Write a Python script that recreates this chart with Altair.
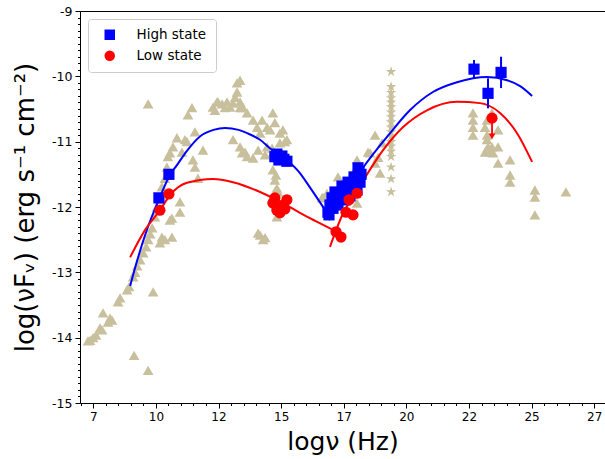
import altair as alt
import pandas as pd
import numpy as np

# ---------------- data ----------------
arch_x = [7.37, 7.49, 7.61, 7.29, 7.77, 7.85, 7.89, 8.17, 8.25, 8.09, 8.49, 8.57, 8.85, 8.93, 9.09,
          9.17, 9.25, 9.37, 9.49, 9.61, 9.69, 9.77, 9.85, 9.89, 9.13, 9.69, 10.16, 10.36, 10.64, 9.96,
          10.04, 10.16, 10.24, 10.36, 10.44, 10.48, 10.56, 10.68, 10.84, 11.04, 11.16, 11.28, 11.44, 9.69,
          11.24, 11.48, 11.56, 11.56, 11.68, 10.96, 10.96, 10.56, 10.64, 10.24, 11.88,
          12.28, 12.44, 12.48, 12.64, 12.76, 12.84, 12.96, 13.08, 13.16, 13.24, 13.36, 13.24, 13.36, 13.36,
          13.48, 13.64, 12.36, 13.08, 13.36, 13.44, 13.56, 13.64, 13.88, 13.88, 14.04, 14.08, 14.16, 14.24,
          14.36, 14.44, 14.44, 14.56, 14.64, 14.67, 14.67, 14.75, 14.95, 15.07, 15.15, 15.23, 14.95, 14.67,
          14.75, 14.83, 14.83, 14.08, 14.28, 14.16, 14.36, 14.79, 14.87, 14.75,
          16.63, 16.67, 16.83, 17.27, 17.95, 18.03, 18.03, 18.23, 18.47, 18.55, 18.75, 18.75, 18.87, 18.95, 19.03,
          22.66, 22.66, 22.66, 22.66, 23.14, 23.22, 23.22, 23.22, 23.14, 23.42, 23.42, 23.46, 23.26, 23.34,
          23.66, 23.66, 23.66, 24.14, 24.14, 24.14, 25.13, 25.13, 25.13, 26.37]
arch_y = [-14.04, -14.00, -13.96, -14.05, -13.85, -13.88, -13.62, -13.70, -13.73, -13.76, -13.45, -13.39, -13.27, -13.22, -13.07,
          -13.00, -12.90, -12.81, -12.70, -12.61, -12.50, -12.41, -12.32, -13.30, -14.27, -14.50, -12.55, -12.50, -12.46, -12.15,
          -12.00, -11.89, -11.69, -11.56, -11.39, -11.23, -11.17, -11.08, -10.94, -11.16, -10.97, -10.59, -10.48, -10.42,
          -11.00, -11.28, -10.85, -11.39, -11.56, -11.92, -12.08, -12.20, -12.17, -12.46, -11.13,
          -10.47, -10.39, -10.39, -10.42, -10.48, -10.39, -10.47, -10.41, -10.32, -10.10, -10.06, -10.24, -10.39, -10.48,
          -10.48, -10.56, -10.52, -10.97, -11.08, -11.17, -11.16, -11.23, -11.25, -10.67, -10.78, -11.13, -10.87, -10.67,
          -11.20, -10.78, -11.08, -10.82, -11.10, -10.56, -11.17, -10.71, -10.87, -10.82, -11.00, -10.97, -11.02, -11.43,
          -11.59, -11.71, -12.15, -12.40, -12.50, -12.43, -12.47, -11.51, -11.77, -11.89,
          -11.86, -11.85, -11.79, -11.54, -11.43, -11.28, -11.94, -11.48, -11.16, -11.17, -10.90, -11.33, -11.24, -11.48, -11.02,
          -10.56, -10.67, -10.78, -10.90, -10.78, -10.67, -10.90, -10.97, -11.16, -10.56, -11.08, -11.17, -11.08, -11.16,
          -10.82, -11.08, -11.33, -11.28, -11.51, -11.62, -11.74, -11.85, -12.12, -11.77]

star_y = [-9.93, -10.16, -10.25, -10.33, -10.40, -10.47, -10.55, -10.62, -10.70, -10.78, -10.85, -10.92,
          -11.00, -11.07, -11.15, -11.23, -11.39, -11.57, -11.77]
star_x = [19.39] * len(star_y)

high_x = [10.12, 10.52, 14.75, 14.83, 14.91, 15.03, 15.11, 15.23,
          16.87, 16.95, 17.03, 17.15, 17.07, 17.23, 17.35, 17.43, 17.27, 17.47, 17.59, 17.67, 17.55,
          17.75, 17.83, 17.91, 17.75, 17.95, 18.03, 18.11, 18.03, 18.15, 18.19, 18.07, 16.91,
          22.70, 23.26, 23.78]
high_y = [-11.86, -11.50, -11.23, -11.19, -11.28, -11.22, -11.27, -11.30,
          -12.08, -11.97, -11.86, -11.77, -12.02, -11.89, -11.79, -11.68, -11.97, -11.85, -11.74, -11.62, -11.89,
          -11.77, -11.66, -11.54, -11.83, -11.71, -11.59, -11.46, -11.74, -11.62, -11.50, -11.40, -12.12,
          -9.89, -10.26, -9.94]

low_x = [10.16, 10.52, 14.67, 14.75, 14.83, 14.95, 15.07, 15.15, 15.23,
         17.19, 17.39, 17.59, 17.71, 17.87, 18.03, 23.42]
low_y = [-12.05, -11.80, -11.94, -11.86, -12.05, -12.09, -11.97, -12.03, -11.89,
         -12.38, -12.46, -12.08, -11.89, -12.12, -11.79, -10.64]

# gamma-ray error bars (high state) and upper limit (low state)
herr_x = [22.70, 23.26, 23.78]
herr_lo = [-10.03, -10.49, -10.18]
herr_hi = [-9.75, -10.03, -9.70]
ul_x = [23.42]
ul_top = [-10.64]
ul_end = [-10.92]

# fitted curves (two humps per state)
bs_x = [8.97, 9.29, 9.64, 10.16, 10.56, 10.84, 11.24, 11.76, 12.30, 12.76, 13.30, 13.76, 14.16, 14.55, 15.23, 15.75, 16.15, 16.83]
bs_y = [-13.21, -12.77, -12.35, -11.85, -11.51, -11.36, -11.14, -10.92, -10.82, -10.79, -10.82, -10.89, -10.97, -11.10, -11.28, -11.48, -11.70, -12.09]
bi_x = [16.90, 17.50, 18.27, 19.35, 20.14, 21.06, 22.02, 23.22, 24.02, 24.54, 25.02]
bi_y = [-12.20, -11.86, -11.40, -10.87, -10.52, -10.24, -10.09, -10.01, -10.06, -10.15, -10.30]
rs_x = [8.97, 9.57, 10.16, 10.56, 11.24, 12.28, 13.08, 14.16, 15.07, 15.75, 16.40, 17.07]
rs_y = [-12.77, -12.35, -12.05, -11.82, -11.63, -11.57, -11.62, -11.77, -11.94, -12.09, -12.22, -12.35]
ri_x = [16.95, 17.47, 18.03, 19.07, 19.86, 20.82, 22.02, 22.94, 23.74, 24.42, 25.02]
ri_y = [-12.61, -12.10, -11.75, -11.13, -10.78, -10.52, -10.39, -10.41, -10.56, -10.87, -11.31]

# ---------------- tables ----------------
arch = pd.DataFrame({"x": arch_x, "y": arch_y})
stars = pd.DataFrame({"x": star_x, "y": star_y})
states = pd.concat([
    pd.DataFrame({"x": high_x, "y": high_y, "state": "High state"}),
    pd.DataFrame({"x": low_x, "y": low_y, "state": "Low state"}),
], ignore_index=True)
blue_curves = pd.concat([
    pd.DataFrame({"x": bs_x, "y": bs_y, "seg": "bs"}),
    pd.DataFrame({"x": bi_x, "y": bi_y, "seg": "bi"}),
], ignore_index=True)
red_curves = pd.concat([
    pd.DataFrame({"x": rs_x, "y": rs_y, "seg": "rs"}),
    pd.DataFrame({"x": ri_x, "y": ri_y, "seg": "ri"}),
], ignore_index=True)
errs = pd.DataFrame({"x": herr_x, "y": herr_lo, "y2": herr_hi})
ul = pd.DataFrame({"x": ul_x, "y": ul_top, "y2": ul_end})
ulh = pd.DataFrame({"x": ul_x, "y": ul_end})

# ---------------- scales & axes ----------------
xs = alt.Scale(domain=[6.97, 27.93], nice=False, zero=False)
ys = alt.Scale(domain=[-15, -9], nice=False, zero=False)

x_vals = [round(v, 2) for v in np.arange(7.0, 28.0, 0.5)]
y_vals = [round(v, 2) for v in np.arange(-15.0, -8.95, 0.1)]

FONT = "DejaVu Sans"
xaxis = alt.Axis(
    values=x_vals, title="logν (Hz)", titleFontSize=25, titleFont=FONT, titleFontWeight="normal",
    titleColor="black", titlePadding=7,
    labelExpr="abs(datum.value/2.5 - round(datum.value/2.5)) < 0.001 ? toString(floor(datum.value)) : ''",
    labelFont=FONT, labelFontSize=12, labelColor="black", labelOverlap=False, labelPadding=3,
    tickSize={"condition": {"test": "abs(datum.value/2.5 - round(datum.value/2.5)) > 0.001", "value": 2.5}, "value": 5},
    tickColor="black", domainColor="black", grid=False, labelFlush=False,
)
yaxis = alt.Axis(
    values=y_vals, title="log(νFᵥ) (erg s⁻¹ cm⁻²)", titleFontSize=26, titleFont=FONT,
    titleFontWeight="normal", titleColor="black", titlePadding=13,
    labelExpr="abs(datum.value - round(datum.value)) < 0.001 ? toString(round(datum.value)) : ''",
    labelFont=FONT, labelFontSize=12.5, labelColor="black", labelOverlap=False, labelPadding=3,
    tickSize={"condition": {"test": "abs(datum.value - round(datum.value)) > 0.001", "value": 2.5}, "value": 5},
    tickColor="black", domainColor="black", grid=False, labelFlush=False,
)
topaxis = alt.Axis(orient="top", domain=True, domainColor="black", ticks=False, labels=False,
                   title=None, grid=False)

TAN = "#C8BF9C"
STAR = "M0,-1L0.2245,-0.309L0.951,-0.309L0.363,0.118L0.588,0.809L0,0.382L-0.588,0.809L-0.363,0.118L-0.951,-0.309L-0.2245,-0.309Z"

tri = alt.Chart(arch).mark_point(shape="triangle-up", filled=True, color=TAN, opacity=1, size=115).encode(
    x=alt.X("x:Q", scale=xs, axis=xaxis), y=alt.Y("y:Q", scale=ys, axis=yaxis))

st = alt.Chart(stars).mark_point(shape=STAR, filled=True, color=TAN, opacity=1, size=120).encode(
    x=alt.X("x:Q", scale=xs, axis=topaxis), y=alt.Y("y:Q", scale=ys, axis=None))

color_scale = alt.Scale(domain=["High state", "Low state"], range=["#0000FF", "#FF0000"])
shape_scale = alt.Scale(domain=["High state", "Low state"], range=["square", "circle"])

blue_lines = alt.Chart(blue_curves).mark_line(strokeWidth=2, interpolate="monotone", color="#0000FF").encode(
    x=alt.X("x:Q", scale=xs, axis=None), y=alt.Y("y:Q", scale=ys, axis=None), detail="seg:N")
red_lines = alt.Chart(red_curves).mark_line(strokeWidth=2, interpolate="monotone", color="#FF0000").encode(
    x=alt.X("x:Q", scale=xs, axis=None), y=alt.Y("y:Q", scale=ys, axis=None), detail="seg:N")

ebars = alt.Chart(errs).mark_rule(color="#0000FF", strokeWidth=2).encode(
    x=alt.X("x:Q", scale=xs, axis=None), y=alt.Y("y:Q", scale=ys, axis=None), y2="y2:Q")

ulrule = alt.Chart(ul).mark_rule(color="#FF0000", strokeWidth=1.8).encode(
    x=alt.X("x:Q", scale=xs, axis=None), y=alt.Y("y:Q", scale=ys, axis=None), y2="y2:Q")
ulhead = alt.Chart(ulh).mark_point(shape="triangle-down", filled=True, color="#FF0000", opacity=1, size=45).encode(
    x=alt.X("x:Q", scale=xs, axis=None), y=alt.Y("y:Q", scale=ys, axis=None))

pts = alt.Chart(states).mark_point(filled=True, opacity=1, size=125).encode(
    x=alt.X("x:Q", scale=xs, axis=None), y=alt.Y("y:Q", scale=ys, axis=None),
    color=alt.Color("state:N", scale=color_scale, legend=alt.Legend(title=None)),
    shape=alt.Shape("state:N", scale=shape_scale, legend=alt.Legend(title=None)))

chart = alt.layer(tri, st, blue_lines, red_lines, ebars, ulrule, ulhead, pts).resolve_axis(
    x="independent", y="independent"
).properties(
    width=525, height=392,
    autosize=alt.AutoSizeParams(type="none"),
    padding={"left": 80, "top": 11, "right": 0, "bottom": 56},
).configure_view(stroke=None).configure_legend(
    orient="top-left", offset=8, padding=9, fillColor="rgba(255,255,255,0.8)", strokeColor="#cccccc",
    cornerRadius=3, labelFont=FONT, labelFontSize=13.5, labelColor="black", symbolSize=110,
    rowPadding=6, labelOffset=20, symbolOffset=6,
)

chart.save("out.html", embed_options={"renderer": "svg", "actions": False})
